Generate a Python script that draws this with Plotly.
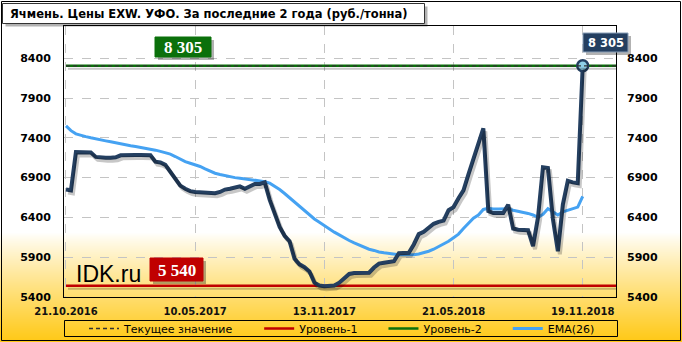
import plotly.graph_objects as go

# ---------------- data ----------------
tick_labels = ["21.10.2016", "10.05.2017", "13.11.2017", "21.05.2018", "19.11.2018"]
tick_index = [0, 26, 52, 78, 104]

price = [6750, 6740, 7220, 7220, 7220, 7215, 7160, 7150, 7150, 7150,
         7155, 7180, 7185, 7185, 7185, 7185, 7185, 7180, 7100, 7090,
         7060, 6970, 6880, 6800, 6760, 6730, 6720, 6715, 6710, 6710,
         6705, 6720, 6750, 6760, 6780, 6790, 6760, 6790, 6820, 6820,
         6840, 6620, 6440, 6280, 6170, 6100, 5880, 5810, 5775, 5720,
         5580, 5545, 5535, 5535, 5545, 5580, 5640, 5690, 5700, 5700,
         5700, 5705, 5770, 5820, 5830, 5840, 5850, 5950, 5950, 5955,
         6060, 6190, 6220, 6265, 6320, 6345, 6360, 6490, 6530, 6640,
         6740, 6940, 7140, 7300, 7520, 6480, 6455, 6455, 6455, 6560,
         6260, 6245, 6245, 6240, 6040, 6400, 7030, 7020, 6380, 5975,
         6560, 6860, 6840, 6830, 8305]

ema26 = [7550, 7490, 7450, 7430, 7415, 7400, 7390, 7375, 7362, 7350,
         7336, 7322, 7310, 7300, 7290, 7280, 7270, 7258, 7245, 7230,
         7215, 7195, 7165, 7130, 7100, 7080, 7060, 7040, 7010, 6980,
         6955, 6940, 6925, 6910, 6900, 6893, 6885, 6878, 6870, 6862,
         6850, 6830, 6795, 6750, 6700, 6645, 6590, 6535, 6485, 6435,
         6380, 6340, 6295, 6250, 6215, 6180, 6140, 6110, 6080, 6050,
         6020, 6000, 5985, 5965, 5955, 5945, 5938, 5932, 5930, 5930,
         5932, 5940, 5955, 5975, 6000, 6030, 6060, 6100, 6145, 6190,
         6260, 6330, 6390, 6430, 6500, 6515, 6505, 6505, 6505, 6510,
         6490, 6478, 6465, 6450, 6430, 6400, 6440, 6510, 6470, 6430,
         6470, 6490, 6505, 6530, 6665]

level1 = 5540
level2 = 8305
current = price[-1]
y_ticks = [5400, 5900, 6400, 6900, 7400, 7900, 8400]

title_text = "Ячмень. Цены EXW. УФО. За последние 2 года (руб./тонна)"

# ---------------- geometry ----------------
W, H = 682, 342
ML, MR, MT, MB = 64, 66, 26, 45
PW, PH = W - ML - MR, H - MT - MB
X_RANGE = [-0.4, 110.7]
Y_RANGE = [5400, 8805]


def px(X):
    return (X - ML) / PW


def py(Y):
    return (H - MB - Y) / PH


idx = list(range(len(price)))
x_end = X_RANGE[1]

NAVY = "#243f60"
GREEN = "#0b700b"
RED = "#c00000"
BLUE = "#45a2f2"

# shadow axes: same data shifted 2px right, 3px down
dx = 2 * (X_RANGE[1] - X_RANGE[0]) / PW
dy = 3 * (Y_RANGE[1] - Y_RANGE[0]) / PH
X3 = [X_RANGE[0] - dx, X_RANGE[1] - dx]
Y3 = [Y_RANGE[0] + dy, Y_RANGE[1] + dy]

fig = go.Figure()
SH = "rgba(0,0,0,0.22)"
fig.add_trace(go.Scatter(x=[idx[0], x_end], y=[level2, level2], mode="lines",
                         line=dict(color=SH, width=2), xaxis="x3", yaxis="y3",
                         showlegend=False, hoverinfo="skip"))
fig.add_trace(go.Scatter(x=[idx[0], x_end], y=[level1, level1], mode="lines",
                         line=dict(color=SH, width=2), xaxis="x3", yaxis="y3",
                         showlegend=False, hoverinfo="skip"))
fig.add_trace(go.Scatter(x=idx, y=price, mode="lines",
                         line=dict(color=SH, width=4), xaxis="x3", yaxis="y3",
                         showlegend=False, hoverinfo="skip"))

NB = "\u00a0" * 6
fig.add_trace(go.Scatter(x=[idx[0], x_end], y=[current, current], mode="lines",
                         name="Текущее значение" + NB,
                         line=dict(color="#333333", width=1.3, dash="4px,3px"), yaxis="y2"))
fig.add_trace(go.Scatter(x=[idx[0], x_end], y=[level1, level1], mode="lines",
                         name="Уровень-1" + NB,
                         line=dict(color=RED, width=2.5)))
fig.add_trace(go.Scatter(x=[idx[0], x_end], y=[level2, level2], mode="lines",
                         name="Уровень-2" + NB,
                         line=dict(color=GREEN, width=2.5)))
fig.add_trace(go.Scatter(x=idx, y=ema26, mode="lines", name="EMA(26)",
                         line=dict(color=BLUE, width=3)))
fig.add_trace(go.Scatter(x=idx, y=price, mode="lines", showlegend=False,
                         line=dict(color=NAVY, width=4)))
fig.add_trace(go.Scatter(x=[idx[-1]], y=[price[-1]], mode="markers", showlegend=False,
                         marker=dict(size=11, color="#8fcfe6",
                                     line=dict(color=NAVY, width=2.5))))

shapes = []
# background gradient (white -> golden)
g0, g1 = 232, 342
for Y in range(g0, g1):
    t = (Y - g0) / (g1 - g0)
    t = t ** 0.9
    r = 255
    g = round(255 * (1 - t) + 200 * t)
    b = round(255 * (1 - t) + 20 * t)
    shapes.append(dict(type="rect", xref="paper", yref="paper", layer="below",
                       x0=px(0), x1=px(W), y0=py(Y + 1), y1=py(Y),
                       fillcolor=f"rgb({r},{g},{b})", line=dict(width=0)))
# outer border
shapes.append(dict(type="rect", xref="paper", yref="paper", layer="above",
                   x0=px(1.5), x1=px(680.5), y0=py(340.5), y1=py(1.5),
                   line=dict(color="black", width=1)))


def box(x0, y0, x1, y1, fill, border=None, shadow=True, layer="above"):
    if shadow:
        shapes.append(dict(type="rect", xref="paper", yref="paper", layer=layer,
                           x0=px(x0 + 3), x1=px(x1 + 3), y0=py(y1 + 3), y1=py(y0 + 3),
                           fillcolor="rgba(0,0,0,0.3)", line=dict(width=0)))
    shapes.append(dict(type="rect", xref="paper", yref="paper", layer=layer,
                       x0=px(x0), x1=px(x1), y0=py(y1), y1=py(y0),
                       fillcolor=fill,
                       line=dict(color=border or fill, width=1)))


# title box
box(2.5, 3.5, 424.5, 23.5, "white", border="#333333")
# green label
box(155, 37, 211, 57, GREEN)
# red label
box(150, 258, 203, 281, RED)
# navy label
box(583, 33, 628, 52, NAVY, border="#8aa0b8")
# legend frame
box(64.5, 320.5, 617.5, 336.5, "rgba(0,0,0,0)", border="black", shadow=False)

annotations = [
    dict(text=title_text, xref="paper", yref="paper", x=px(8), y=py(13.5),
         xanchor="left", yanchor="middle", showarrow=False,
         font=dict(family="DejaVu Sans", size=11.5, color="black", weight="bold")),
    dict(text=f"{level2:,}".replace(",", " "), xref="paper", yref="paper",
         x=px(183), y=py(47.5), xanchor="center", yanchor="middle", showarrow=False,
         font=dict(family="Liberation Serif", size=17, color="white", weight="bold")),
    dict(text=f"{level1:,}".replace(",", " "), xref="paper", yref="paper",
         x=px(176.5), y=py(270), xanchor="center", yanchor="middle", showarrow=False,
         font=dict(family="Liberation Serif", size=17, color="white", weight="bold")),
    dict(text=f"{current:,}".replace(",", " "), xref="paper", yref="paper",
         x=px(605.5), y=py(43), xanchor="center", yanchor="middle", showarrow=False,
         font=dict(family="DejaVu Sans", size=11.5, color="white", weight="bold")),
    dict(text="IDK.ru", xref="paper", yref="paper", x=px(74), y=py(274),
         xanchor="left", yanchor="middle", showarrow=False,
         font=dict(family="Liberation Sans", size=23, color="black")),
]

axis_font = dict(family="DejaVu Sans", size=11, color="black", weight="bold")
fig.update_layout(
    width=W, height=H,
    margin=dict(l=ML, r=MR, t=MT, b=MB, pad=0, autoexpand=False),
    paper_bgcolor="white",
    plot_bgcolor="rgba(0,0,0,0)",
    shapes=shapes,
    annotations=annotations,
    showlegend=True,
    legend=dict(orientation="h", x=px(84), y=py(328.5), xanchor="left", yanchor="middle",
                bgcolor="rgba(0,0,0,0)", borderwidth=0,
                font=dict(family="DejaVu Sans", size=11, color="black"),
                itemwidth=30, traceorder="normal"),
    xaxis=dict(range=X_RANGE, tickvals=tick_index, ticktext=tick_labels,
               showgrid=True, gridcolor="#c4c4c4", griddash="dash", gridwidth=1,
               showline=True, linecolor="black", linewidth=1, mirror=True,
               zeroline=False, ticks="", ticklabelstandoff=5,
               tickfont=dict(family="DejaVu Sans", size=10, color="#111111", weight="bold")),
    yaxis=dict(range=Y_RANGE, tickvals=y_ticks, showgrid=True, gridcolor="#c4c4c4",
               griddash="dash", gridwidth=1, zeroline=False,
               showline=True, linecolor="black", linewidth=1, mirror=True,
               ticks="", ticklabelstandoff=10, tickfont=axis_font),
    yaxis2=dict(range=Y_RANGE, tickvals=y_ticks, overlaying="y", side="right",
                showgrid=False, zeroline=False, ticks="", ticklabelstandoff=10,
                tickfont=axis_font),
    xaxis3=dict(range=X3, overlaying="x", visible=False),
    yaxis3=dict(range=Y3, overlaying="y", visible=False),
)

fig.write_html("out.html")
